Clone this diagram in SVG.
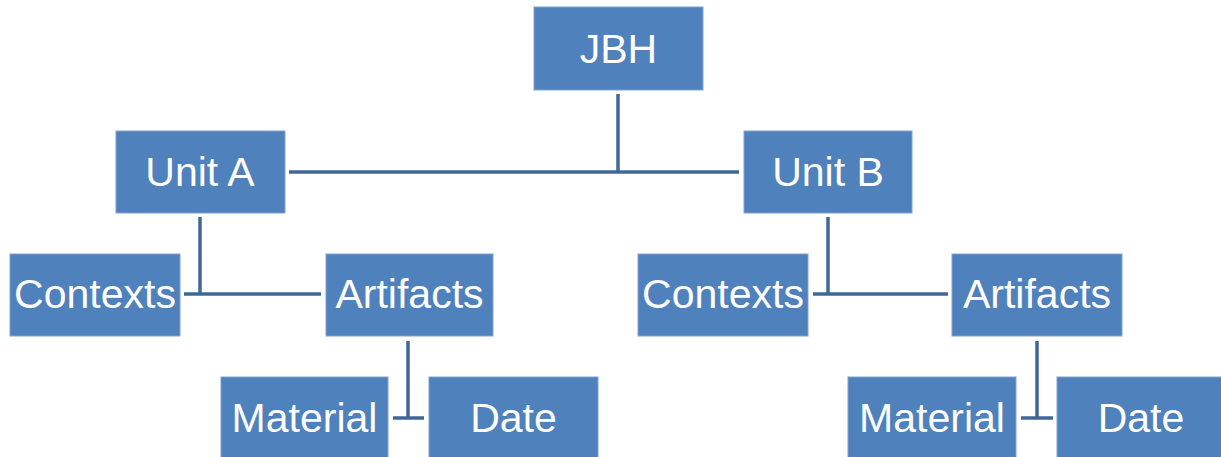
<svg xmlns="http://www.w3.org/2000/svg" width="1221" height="457" viewBox="0 0 1221 457">
<style>
.box{fill:#4F81BD;stroke:#7FA3D0;stroke-width:1}
.lbl{fill:#FFFFFF;font-family:"Liberation Sans",Arial,sans-serif;font-size:41px;text-anchor:middle}
.con{stroke:#3F6898;stroke-width:3.5;fill:none}
</style>
<rect width="1221" height="457" fill="#FFFFFF"/>
<g id="connectors">
<line class="con" x1="618" y1="94" x2="618" y2="172"/>
<line class="con" x1="289" y1="172" x2="739" y2="172"/>
<line class="con" x1="200" y1="217" x2="200" y2="294"/>
<line class="con" x1="184" y1="294" x2="321" y2="294"/>
<line class="con" x1="828" y1="217" x2="828" y2="294"/>
<line class="con" x1="813" y1="294" x2="948" y2="294"/>
<line class="con" x1="408" y1="341" x2="408" y2="418"/>
<line class="con" x1="393" y1="418" x2="424" y2="418"/>
<line class="con" x1="1037" y1="341" x2="1037" y2="418"/>
<line class="con" x1="1021" y1="418" x2="1053" y2="418"/>
</g>
<g id="jbh"><rect class="box" x="534" y="7" width="169" height="83"/><text class="lbl" x="618.5" y="63">JBH</text></g>
<g id="unitA"><rect class="box" x="116" y="131" width="169" height="82"/><text class="lbl" x="200" y="186">Unit A</text></g>
<g id="unitB"><rect class="box" x="744" y="131" width="168" height="82"/><text class="lbl" x="828" y="186">Unit B</text></g>
<g id="contextsA"><rect class="box" x="10" y="254" width="170" height="82"/><text class="lbl" x="95" y="308">Contexts</text></g>
<g id="artifactsA"><rect class="box" x="326" y="254" width="167" height="82"/><text class="lbl" x="409.5" y="308">Artifacts</text></g>
<g id="contextsB"><rect class="box" x="638" y="254" width="170" height="82"/><text class="lbl" x="723" y="308">Contexts</text></g>
<g id="artifactsB"><rect class="box" x="952" y="254" width="170" height="82"/><text class="lbl" x="1037" y="308">Artifacts</text></g>
<g id="materialA"><rect class="box" x="221" y="377" width="167" height="84"/><text class="lbl" x="304.5" y="432">Material</text></g>
<g id="dateA"><rect class="box" x="429" y="377" width="169" height="84"/><text class="lbl" x="513.5" y="432">Date</text></g>
<g id="materialB"><rect class="box" x="848" y="377" width="168" height="84"/><text class="lbl" x="932" y="432">Material</text></g>
<g id="dateB"><rect class="box" x="1057" y="377" width="169" height="84"/><text class="lbl" x="1141" y="432">Date</text></g>
</svg>
